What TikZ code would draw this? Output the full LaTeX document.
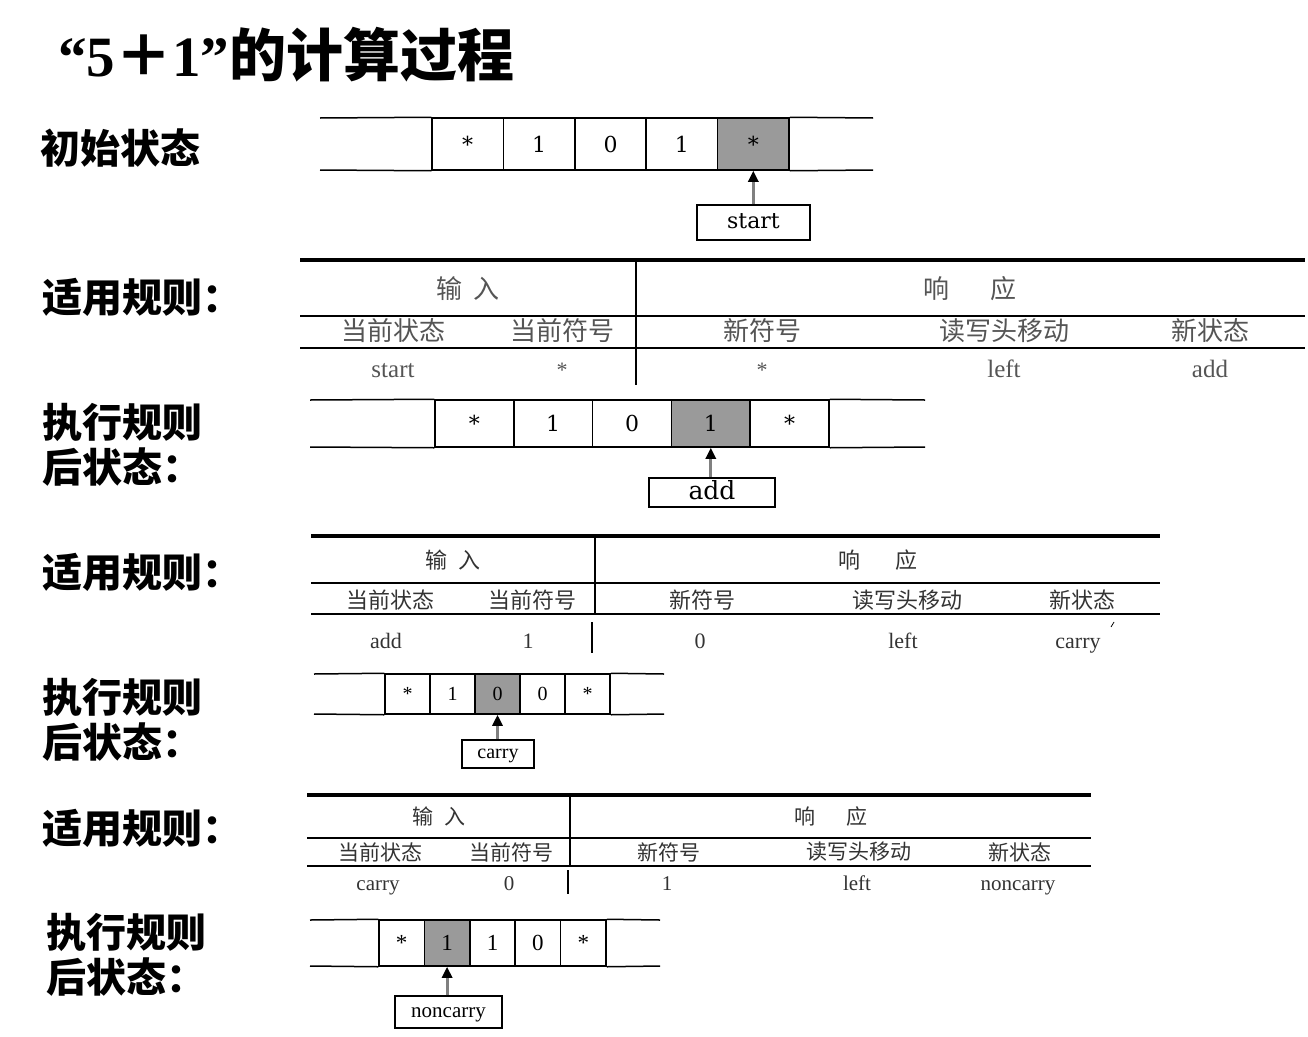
\documentclass[tikz,border=0pt]{standalone}
\usepackage{fontspec}
\setmainfont{Liberation Serif}
\newfontfamily\cjk{Noto Sans CJK SC}
\newfontfamily\dserif{DejaVu Serif}
\usetikzlibrary{arrows.meta}
\definecolor{headgray}{HTML}{9A9A9A}
\definecolor{tabtextA}{HTML}{555555}
\definecolor{tabtext}{HTML}{333333}
\newcommand{\bxs}{\vphantom{dy}}
\begin{document}
\begin{tikzpicture}[x=1pt,y=-1pt,
  lbl/.style={anchor=west, inner sep=0, font=\cjk\bfseries\fontsize{40}{44}\selectfont},
  cell/.style={draw, line width=1.5pt, inner sep=0},
  headcell/.style={cell, fill=headgray},
  ptrbox/.style={draw, line width=1.5pt, inner sep=0, fill=white},
  ptr/.style={draw=gray, line width=3pt, -{Triangle[color=black,length=11pt,width=10pt]}},
  tline/.style={line width=1.5pt},
  tthick/.style={line width=3.5pt},
  tvert/.style={line width=2.6pt},
  ttc/.style={inner sep=0, text=tabtext},
  ttl/.style={inner sep=0, text=tabtext, anchor=base},
]
\useasboundingbox (0,0) rectangle (1308,1036);

% title
\node[anchor=west, inner sep=0, font=\bfseries\fontsize{57}{62}\selectfont] (title) at (58,55) {“5{\cjk ＋}1”{\cjk 的计算过程}};

% left labels
\node[lbl] (l1) at (40,148) {初始状态};
\node[lbl] (l2) at (42,297) {适用规则：};
\node[lbl] (l3a) at (42,422) {执行规则};
\node[lbl] (l3b) at (42,467) {后状态：};
\node[lbl] (l4) at (42,572) {适用规则：};
\node[lbl] (l5a) at (42,697) {执行规则};
\node[lbl] (l5b) at (42,742) {后状态：};
\node[lbl] (l6) at (42,828) {适用规则：};
\node[lbl] (l7a) at (46,932) {执行规则};
\node[lbl] (l7b) at (46,977) {后状态：};

% ---------- tape 1 ----------
\begin{scope}[every node/.append style={minimum width=71.4pt, minimum height=52pt, font=\dserif\fontsize{22}{22}\selectfont}]
\node[cell] (a1) at (467.7,144) {*};
\node[cell] (a2) at (539.1,144) {1};
\node[cell] (a3) at (610.5,144) {0};
\node[cell] (a4) at (681.9,144) {1};
\node[headcell] (a5) at (753.3,144) {*};
\end{scope}
\draw[line width=1.5pt] (320,118) -- (a1.north west) (a5.north east) -- (873,118);
\draw[line width=1.5pt] (320,170) -- (a1.south west) (a5.south east) -- (873,170);
\node[ptrbox, minimum width=113pt, minimum height=35pt, font=\dserif\fontsize{22}{22}\selectfont] (p1) at (753.5,222.5) {\bxs start};
\draw[ptr] (a5.south |- p1.north) -- (a5.south);

% ---------- table 1 ----------
\draw[tthick] (300,260) -- (1305,260);
\draw[tline] (300,316) -- (1305,316);
\draw[tline] (300,348) -- (1305,348);
\draw[tvert] (636,260) -- (636,385);
\node[ttc, text=tabtextA, font=\cjk\fontsize{26}{26}\selectfont] (h1a) at (468,289) {输\hspace{11pt}入};
\node[ttc, text=tabtextA, font=\cjk\fontsize{26}{26}\selectfont] (h1b) at (970,289) {响\hspace{41pt}应};
\node[ttc, text=tabtextA, font=\cjk\fontsize{26}{26}\selectfont] (s1a) at (393,331) {当前状态};
\node[ttc, text=tabtextA, font=\cjk\fontsize{26}{26}\selectfont] (s1b) at (562,331) {当前符号};
\node[ttc, text=tabtextA, font=\cjk\fontsize{26}{26}\selectfont] (s1c) at (762,331) {新符号};
\node[ttc, text=tabtextA, font=\cjk\fontsize{26}{26}\selectfont] (s1d) at (1004,331) {读写头移动};
\node[ttc, text=tabtextA, font=\cjk\fontsize{26}{26}\selectfont] (s1e) at (1210,331) {新状态};
\node[ttl, text=tabtextA, font=\fontsize{25}{25}\selectfont] (d1a) at (393,377) {start};
\node[ttl, text=tabtextA, font=\fontsize{22}{22}\selectfont] (d1b) at (562,377) {*};
\node[ttl, text=tabtextA, font=\fontsize{22}{22}\selectfont] (d1c) at (762,377) {*};
\node[ttl, text=tabtextA, font=\fontsize{25}{25}\selectfont] (d1d) at (1004,377) {left};
\node[ttl, text=tabtextA, font=\fontsize{25}{25}\selectfont] (d1e) at (1210,377) {add};

% ---------- tape 2 ----------
\begin{scope}[every node/.append style={minimum width=78.8pt, minimum height=47pt, font=\dserif\fontsize{22}{22}\selectfont}]
\node[cell] (b1) at (474.4,423.5) {*};
\node[cell] (b2) at (553.2,423.5) {1};
\node[cell] (b3) at (632,423.5) {0};
\node[headcell] (b4) at (710.8,423.5) {1};
\node[cell] (b5) at (789.6,423.5) {*};
\end{scope}
\draw[line width=1.5pt] (310,400) -- (b1.north west) (b5.north east) -- (925,400);
\draw[line width=1.5pt] (310,447) -- (b1.south west) (b5.south east) -- (925,447);
\node[ptrbox, minimum width=126pt, minimum height=29pt, font=\dserif\fontsize{25}{25}\selectfont] (p2) at (712,492.5) {\bxs add};
\draw[ptr] (b4.south |- p2.north) -- (b4.south);

% ---------- table 2 ----------
\draw[tthick] (311,536) -- (1160,536);
\draw[tline] (311,583) -- (1160,583);
\draw[tline] (311,614) -- (1160,614);
\draw[tvert] (595,536) -- (595,615);
\draw[tvert] (592,622) -- (592,653);
\draw[line width=0.8pt] (1111,627) -- (1114,622);
\node[ttc, font=\cjk\fontsize{22}{22}\selectfont] (h2a) at (453,560) {输\hspace{11pt}入};
\node[ttc, font=\cjk\fontsize{22}{22}\selectfont] (h2b) at (878,560) {响\hspace{35pt}应};
\node[ttc, font=\cjk\fontsize{22}{22}\selectfont] (s2a) at (390,600) {当前状态};
\node[ttc, font=\cjk\fontsize{22}{22}\selectfont] (s2b) at (532,600) {当前符号};
\node[ttc, font=\cjk\fontsize{22}{22}\selectfont] (s2c) at (702,600) {新符号};
\node[ttc, font=\cjk\fontsize{22}{22}\selectfont] (s2d) at (907,600) {读写头移动};
\node[ttc, font=\cjk\fontsize{22}{22}\selectfont] (s2e) at (1082,600) {新状态};
\node[ttl, font=\fontsize{22}{22}\selectfont] (d2a) at (386,648) {add};
\node[ttl, font=\fontsize{22}{22}\selectfont] (d2b) at (528,648) {1};
\node[ttl, font=\fontsize{22}{22}\selectfont] (d2c) at (700,648) {0};
\node[ttl, font=\fontsize{22}{22}\selectfont] (d2d) at (903,648) {left};
\node[ttl, font=\fontsize{22}{22}\selectfont] (d2e) at (1078,648) {carry};

% ---------- tape 3 ----------
\begin{scope}[every node/.append style={minimum width=45pt, minimum height=40pt, font=\fontsize{20}{20}\selectfont}]
\node[cell] (c1) at (407.5,694) {*};
\node[cell] (c2) at (452.5,694) {1};
\node[headcell] (c3) at (497.5,694) {0};
\node[cell] (c4) at (542.5,694) {0};
\node[cell] (c5) at (587.5,694) {*};
\end{scope}
\draw[line width=1.5pt] (314,674) -- (c1.north west) (c5.north east) -- (664,674);
\draw[line width=1.5pt] (314,714) -- (c1.south west) (c5.south east) -- (664,714);
\node[ptrbox, minimum width=72pt, minimum height=28pt, font=\fontsize{20}{20}\selectfont] (p3) at (498,754) {\bxs carry};
\draw[ptr] (c3.south |- p3.north) -- (c3.south);

% ---------- table 3 ----------
\draw[tthick] (307,795) -- (1091,795);
\draw[tline] (307,838) -- (1091,838);
\draw[tline] (307,866) -- (1091,866);
\draw[tvert] (570,795) -- (570,865);
\draw[tvert] (568,870) -- (568,894);
\node[ttc, font=\cjk\fontsize{21}{21}\selectfont] (h3a) at (439,816) {输\hspace{11pt}入};
\node[ttc, font=\cjk\fontsize{21}{21}\selectfont] (h3b) at (831,816) {响\hspace{31pt}应};
\node[ttc, font=\cjk\fontsize{21}{21}\selectfont] (s3a) at (380,852) {当前状态};
\node[ttc, font=\cjk\fontsize{21}{21}\selectfont] (s3b) at (511,852) {当前符号};
\node[ttc, font=\cjk\fontsize{21}{21}\selectfont] (s3c) at (669,852) {新符号};
\node[ttc, font=\cjk\fontsize{21}{21}\selectfont] (s3d) at (859,852) {读写头移动};
\node[ttc, font=\cjk\fontsize{21}{21}\selectfont] (s3e) at (1020,852) {新状态};
\node[ttl, font=\fontsize{21}{21}\selectfont] (d3a) at (378,890) {carry};
\node[ttl, font=\fontsize{21}{21}\selectfont] (d3b) at (509,890) {0};
\node[ttl, font=\fontsize{21}{21}\selectfont] (d3c) at (667,890) {1};
\node[ttl, font=\fontsize{21}{21}\selectfont] (d3d) at (857,890) {left};
\node[ttl, font=\fontsize{21}{21}\selectfont] (d3e) at (1018,890) {noncarry};

% ---------- tape 4 ----------
\begin{scope}[every node/.append style={minimum width=45.4pt, minimum height=46pt, font=\fontsize{23}{23}\selectfont}]
\node[cell] (e1) at (401.7,943) {*};
\node[headcell] (e2) at (447.1,943) {1};
\node[cell] (e3) at (492.5,943) {1};
\node[cell] (e4) at (537.9,943) {0};
\node[cell] (e5) at (583.3,943) {*};
\end{scope}
\draw[line width=1.5pt] (310,920) -- (e1.north west) (e5.north east) -- (660,920);
\draw[line width=1.5pt] (310,966) -- (e1.south west) (e5.south east) -- (660,966);
\node[ptrbox, minimum width=107pt, minimum height=32pt, font=\fontsize{21}{21}\selectfont] (p4) at (448.5,1012) {\bxs noncarry};
\draw[ptr] (e2.south |- p4.north) -- (e2.south);
\end{tikzpicture}
\end{document}
